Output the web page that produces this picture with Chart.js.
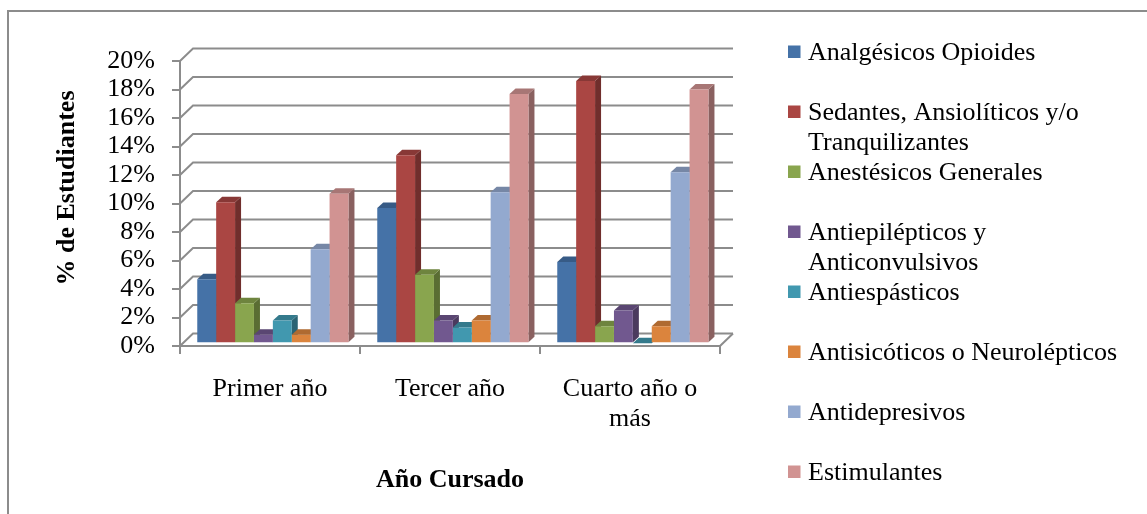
<!DOCTYPE html>
<html>
<head>
<meta charset="utf-8">
<script src="https://cdn.jsdelivr.net/npm/chart.js@4/dist/chart.umd.min.js"></script>
<style>
  html, body { margin: 0; padding: 0; background: #ffffff; }
  #wrap { width: 1147px; height: 514px; }
</style>
</head>
<body>
<div id="wrap"><canvas id="chart" width="1147" height="514"></canvas></div>
<script>
// ---- data ----
const categories = [["Primer año"], ["Tercer año"], ["Cuarto año o", "más"]];

const seriesNames = [
  ["Analgésicos Opioides"],
  ["Sedantes, Ansiolíticos y/o", "Tranquilizantes"],
  ["Anestésicos Generales"],
  ["Antiepilépticos y", "Anticonvulsivos"],
  ["Antiespásticos"],
  ["Antisicóticos o Neurolépticos"],
  ["Antidepresivos"],
  ["Estimulantes"]
];

const analgesicosOpioides = [4.5, 9.5, 5.7];
const sedantesAnsioliticos = [9.9, 13.2, 18.4];
const anestesicosGenerales = [2.8, 4.8, 1.2];
const antiepilepticos = [0.6, 1.6, 2.3];
const antiespasticos = [1.6, 1.1, 0.0];
const antisicoticos = [0.6, 1.6, 1.2];
const antidepresivos = [6.6, 10.6, 12.0];
const estimulantes = [10.5, 17.5, 17.8];

const seriesValues = [
  analgesicosOpioides, sedantesAnsioliticos, anestesicosGenerales, antiepilepticos,
  antiespasticos, antisicoticos, antidepresivos, estimulantes
];

const yTickValues = [0, 2, 4, 6, 8, 10, 12, 14, 16, 18, 20];
const yTitle = "% de Estudiantes";
const xTitle = "Año Cursado";

// ---- styling ----
const seriesColors = ["#4572A7", "#AA4643", "#89A54E", "#71588F", "#4198AF", "#DB843D", "#93A9CF", "#D19392"];
const GRID = "#8c8c8c";
const SERIF = "'Liberation Serif', 'Times New Roman', serif";

// 3D projection: full floor depth and the columns' own depth
const DEPTH = { dx: 13, dy: -12.5 };
const BAR_FRONT = 0.22;
const BAR_DEPTH = { dx: 6, dy: -5.5 };

function shade(hex, f) {
  const n = parseInt(hex.slice(1), 16);
  const r = Math.round(((n >> 16) & 255) * f);
  const g = Math.round(((n >> 8) & 255) * f);
  const b = Math.round((n & 255) * f);
  return `rgb(${r},${g},${b})`;
}

const box3d = {
  id: 'box3d',
  beforeDraw(chart) {
    const { ctx } = chart;
    ctx.save();
    ctx.strokeStyle = GRID;
    ctx.lineWidth = 2;
    ctx.strokeRect(8, 11, chart.width + 40, chart.height + 40);
    ctx.restore();
  },
  beforeDatasetsDraw(chart) {
    const { ctx, chartArea: a, scales: { y } } = chart;
    ctx.save();
    // back wall gridlines with their side connectors
    ctx.strokeStyle = GRID;
    ctx.lineWidth = 2;
    y.ticks.forEach(t => {
      const py = y.getPixelForValue(t.value);
      ctx.beginPath();
      ctx.moveTo(a.left, py);
      ctx.lineTo(a.left + DEPTH.dx, py + DEPTH.dy);
      ctx.lineTo(a.right + DEPTH.dx, py + DEPTH.dy);
      ctx.stroke();
    });
    const p0 = y.getPixelForValue(0);
    ctx.beginPath();
    ctx.moveTo(a.right, p0);
    ctx.lineTo(a.right + DEPTH.dx, p0 + DEPTH.dy);
    ctx.stroke();

    // side and top faces of every column, left to right
    const ox = DEPTH.dx * BAR_FRONT, oy = DEPTH.dy * BAR_FRONT;
    categories.forEach((_, i) => {
      chart.data.datasets.forEach((ds, d) => {
        const bar = chart.getDatasetMeta(d).data[i];
        const p = bar.getProps(['x', 'y', 'base', 'width'], true);
        const L = p.x - p.width / 2 + ox, R = p.x + p.width / 2 + ox;
        const T = p.y + oy, B = p.base + oy;
        const c = seriesColors[d];
        ctx.fillStyle = shade(c, 0.66);
        ctx.beginPath();
        ctx.moveTo(R, T);
        ctx.lineTo(R + BAR_DEPTH.dx, T + BAR_DEPTH.dy);
        ctx.lineTo(R + BAR_DEPTH.dx, B + BAR_DEPTH.dy);
        ctx.lineTo(R, B);
        ctx.closePath();
        ctx.fill();
        ctx.fillStyle = shade(c, 0.8);
        ctx.beginPath();
        ctx.moveTo(L, T);
        ctx.lineTo(R, T);
        ctx.lineTo(R + BAR_DEPTH.dx, T + BAR_DEPTH.dy);
        ctx.lineTo(L + BAR_DEPTH.dx, T + BAR_DEPTH.dy);
        ctx.closePath();
        ctx.fill();
      });
    });
    ctx.restore();
    // front faces are drawn by Chart.js in the columns' front plane
    ctx.save();
    ctx.translate(ox, oy);
  },
  afterDatasetsDraw(chart) {
    chart.ctx.restore();
  },
  afterDraw(chart) {
    const { ctx } = chart;
    ctx.save();
    // vertical axis title
    ctx.font = `bold 26px ${SERIF}`;
    ctx.fillStyle = '#000';
    ctx.textAlign = 'center';
    ctx.textBaseline = 'middle';
    ctx.translate(67, 188);
    ctx.rotate(-Math.PI / 2);
    ctx.fillText(yTitle, 0, 0);
    ctx.restore();

    // legend
    ctx.save();
    ctx.font = `26px ${SERIF}`;
    ctx.textAlign = 'left';
    ctx.textBaseline = 'alphabetic';
    const boxX = 788, textX = 808, first = 60, pitch = 60, line = 30, sz = 12.5;
    seriesNames.forEach((lines, i) => {
      const base = first + i * pitch;
      ctx.fillStyle = seriesColors[i];
      ctx.fillRect(boxX, base - 14.5, sz, sz);
      ctx.fillStyle = '#000';
      lines.forEach((t, k) => ctx.fillText(t, textX, base + k * line));
    });
    ctx.restore();
  }
};

new Chart(document.getElementById('chart'), {
  type: 'bar',
  data: {
    labels: categories,
    datasets: seriesNames.map((n, i) => ({
      label: n.join(' '),
      data: seriesValues[i],
      backgroundColor: seriesColors[i],
      borderWidth: 0,
      barPercentage: 1.0,
      categoryPercentage: 0.84
    }))
  },
  options: {
    responsive: false,
    animation: false,
    devicePixelRatio: 1,
    layout: { padding: { top: 61, right: 427, bottom: 0, left: 0 } },
    plugins: {
      legend: { display: false },
      tooltip: { enabled: false }
    },
    scales: {
      x: {
        grid: { display: true, offset: true, drawOnChartArea: false, drawTicks: true, tickLength: 8, color: GRID, lineWidth: 2 },
        border: { display: true, color: GRID, width: 2 },
        ticks: { color: '#000', padding: 20, maxRotation: 0, autoSkip: false,
                 font: { family: SERIF, size: 26, lineHeight: 30 / 26 } },
        title: { display: true, text: xTitle, color: '#000',
                 font: { family: SERIF, size: 26, weight: 'bold', lineHeight: 30 / 26 },
                 padding: { top: 0, bottom: 19 } },
        afterFit(scale) { scale.height = 168; }
      },
      y: {
        min: yTickValues[0], max: yTickValues[yTickValues.length - 1],
        grid: { display: true, drawOnChartArea: false, drawTicks: true, tickLength: 8, color: GRID, lineWidth: 2 },
        border: { display: true, color: GRID, width: 2 },
        ticks: { color: '#000', padding: 17, autoSkip: false,
                 font: { family: SERIF, size: 26, lineHeight: 1 },
                 callback: v => v + '%' },
        afterBuildTicks(scale) { scale.ticks = yTickValues.map(v => ({ value: v })); },
        afterFit(scale) { scale.width = 180; }
      }
    }
  },
  plugins: [box3d]
});
</script>
</body>
</html>
